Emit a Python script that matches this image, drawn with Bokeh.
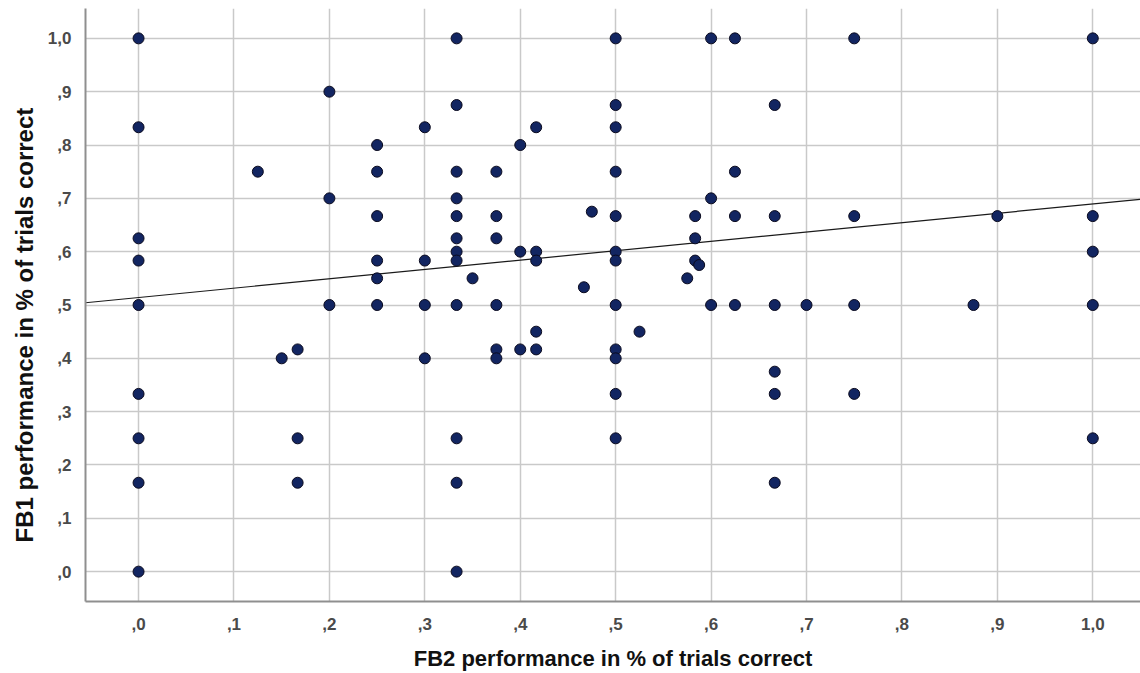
from bokeh.plotting import figure
from bokeh.models import FixedTicker, CustomJSTickFormatter, Range1d, Title
from bokeh.embed import file_html
from bokeh.resources import INLINE

# FB2 performance (x) and FB1 performance (y)
fb2 = [0.0, 0.0, 0.0, 0.0, 0.0, 0.0, 0.0, 0.0, 0.0,
       0.125, 0.15,
       0.1667, 0.1667, 0.1667,
       0.2, 0.2, 0.2,
       0.25, 0.25, 0.25, 0.25, 0.25, 0.25,
       0.3, 0.3, 0.3, 0.3,
       0.3333, 0.3333, 0.3333, 0.3333, 0.3333, 0.3333, 0.3333, 0.3333, 0.3333, 0.3333, 0.3333, 0.3333,
       0.35,
       0.375, 0.375, 0.375, 0.375, 0.375, 0.375,
       0.4, 0.4, 0.4,
       0.4167, 0.4167, 0.4167, 0.4167, 0.4167,
       0.4667, 0.475,
       0.5, 0.5, 0.5, 0.5, 0.5, 0.5, 0.5, 0.5, 0.5, 0.5, 0.5, 0.5,
       0.525, 0.575,
       0.5833, 0.5833, 0.5833, 0.5875,
       0.6, 0.6, 0.6,
       0.625, 0.625, 0.625, 0.625,
       0.6667, 0.6667, 0.6667, 0.6667, 0.6667, 0.6667,
       0.7,
       0.75, 0.75, 0.75, 0.75,
       0.875, 0.9,
       1.0, 1.0, 1.0, 1.0, 1.0]
fb1 = [1.0, 0.8333, 0.625, 0.5833, 0.5, 0.3333, 0.25, 0.1667, 0.0,
       0.75, 0.4,
       0.4167, 0.25, 0.1667,
       0.9, 0.7, 0.5,
       0.8, 0.75, 0.6667, 0.5833, 0.55, 0.5,
       0.8333, 0.5833, 0.5, 0.4,
       1.0, 0.875, 0.75, 0.7, 0.6667, 0.625, 0.6, 0.5833, 0.5, 0.25, 0.1667, 0.0,
       0.55,
       0.75, 0.6667, 0.625, 0.5, 0.4167, 0.4,
       0.8, 0.6, 0.4167,
       0.8333, 0.6, 0.5833, 0.45, 0.4167,
       0.5333, 0.675,
       1.0, 0.875, 0.8333, 0.75, 0.6667, 0.6, 0.5833, 0.5, 0.4167, 0.4, 0.3333, 0.25,
       0.45, 0.55,
       0.6667, 0.625, 0.5833, 0.575,
       1.0, 0.7, 0.5,
       1.0, 0.75, 0.6667, 0.5,
       0.875, 0.6667, 0.5, 0.375, 0.3333, 0.1667,
       0.5,
       1.0, 0.6667, 0.5, 0.3333,
       0.5, 0.6667,
       1.0, 0.6667, 0.6, 0.5, 0.25]

# fit line coefficients
fit_intercept = 0.514
fit_slope = 0.1755

tick_values = [0.0, 0.1, 0.2, 0.3, 0.4, 0.5, 0.6, 0.7, 0.8, 0.9, 1.0]

x_lo, x_hi = -0.0556, 1.050
y_lo, y_hi = -0.056, 1.056

p = figure(width=1140, height=673, output_backend="svg", toolbar_location=None,
           x_range=Range1d(x_lo, x_hi), y_range=Range1d(y_lo, y_hi),
           min_border_left=85, min_border_right=0, min_border_top=8, min_border_bottom=71)
p.outline_line_color = None
p.background_fill_color = "white"
p.border_fill_color = "white"

fmt = CustomJSTickFormatter(code="""
var s = tick.toFixed(1);
if (s.indexOf('0.') === 0) { s = s.substring(1); }
return s.replace('.', ',');
""")

for ax in (p.xaxis[0], p.yaxis[0]):
    ax.ticker = FixedTicker(ticks=tick_values)
    ax.formatter = fmt
    ax.major_tick_line_color = None
    ax.minor_tick_line_color = None
    ax.axis_line_color = "#8f8f8f"
    ax.axis_line_width = 2
    ax.major_label_text_font = "Liberation Sans"
    ax.major_label_text_font_style = "bold"
    ax.major_label_text_font_size = "17px"
    ax.major_label_text_color = "#4a4a4a"
    ax.axis_label_text_font = "Liberation Sans"
    ax.axis_label_text_font_style = "bold"
    ax.axis_label_text_color = "#111111"

p.xaxis.axis_label = "FB2 performance in % of trials correct"
p.xaxis.axis_label_text_font_size = "22px"
p.xaxis.major_label_standoff = 10
p.xaxis.axis_label_standoff = 13
p.yaxis.major_label_standoff = 8

ytitle = Title(text="FB1 performance in % of trials correct", align="left",
               text_font="Liberation Sans", text_font_style="bold",
               text_font_size="24px", text_color="#111111",
               standoff=13, offset=59)
p.add_layout(ytitle, "left")

for g in (p.xgrid[0], p.ygrid[0]):
    g.ticker = FixedTicker(ticks=tick_values)
    g.grid_line_color = "#c9c9c9"
    g.grid_line_width = 1.5

fit_x = [x_lo, x_hi]
fit_y = [fit_intercept + fit_slope * v for v in fit_x]
p.line(fit_x, fit_y, line_color="#1a1a1a", line_width=1.2)

p.scatter(fb2, fb1, size=11, fill_color="#122561", line_color="#0a0a1e", line_width=1)

open("out.html", "w").write(file_html(p, INLINE))
